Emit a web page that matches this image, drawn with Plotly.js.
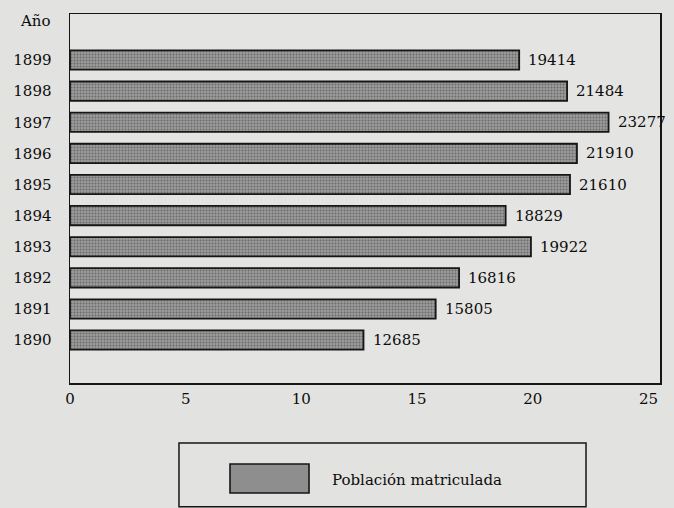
<!DOCTYPE html>
<html>
<head>
<meta charset="utf-8">
<script src="https://cdn.plot.ly/plotly-3.0.1.min.js"></script>
<style>html,body{margin:0;padding:0;background:#e2e2e0;}#chart{width:674px;height:508px;}</style>
</head>
<body>
<div id="chart"></div>
<script>
// Data
const years = [1890, 1891, 1892, 1893, 1894, 1895, 1896, 1897, 1898, 1899];
const matriculados = [12685, 15805, 16816, 19922, 18829, 21610, 21910, 23277, 21484, 19414];
const yearLabels = ["1890", "1891", "1892", "1893", "1894", "1895", "1896", "1897", "1898", "1899"];
const xTicks = [0, 5, 10, 15, 20, 25];
const seriesName = "Población matriculada";
const yAxisLabel = "Año";

const xThousands = matriculados.map(v => v / 1000);
const fontFam = "DejaVu Serif, Liberation Serif, serif";
const ink = "#0c0c0c";

const trace = {
  type: "bar",
  orientation: "h",
  x: xThousands,
  y: years,
  width: 0.62,
  name: seriesName,
  showlegend: false,
  hoverinfo: "skip",
  marker: {
    color: "#909090",
    line: {color: "#161616", width: 1.8},
    pattern: {shape: ".", fgcolor: "#6a6a6a", bgcolor: "#9c9c9c", size: 3, solidity: 0.35}
  }
};

const annotations = years.map((yr, i) => ({
  x: xThousands[i], y: yr, xref: "x", yref: "y",
  text: String(matriculados[i]), showarrow: false,
  xanchor: "left", yanchor: "middle", xshift: 7,
  font: {family: fontFam, size: 15, color: ink}
}));

annotations.push({
  x: 0, y: 1900.26, xref: "paper", yref: "y",
  text: yAxisLabel, showarrow: false, xanchor: "right", yanchor: "middle", xshift: -17,
  font: {family: fontFam, size: 15, color: ink}
});

// custom legend (box + large swatch + label)
annotations.push({
  x: 0.4407, y: -0.263, xref: "paper", yref: "paper",
  text: seriesName, showarrow: false, xanchor: "left", yanchor: "middle",
  font: {family: fontFam, size: 15, color: ink}
});

const shapes = [
  {type: "rect", xref: "paper", yref: "paper", x0: 0.1847, x1: 0.8746, y0: -0.3355, y1: -0.1626,
   line: {color: "#161616", width: 1.5}, fillcolor: "rgba(0,0,0,0)"},
  {type: "rect", xref: "paper", yref: "paper", x0: 0.2712, x1: 0.4051, y0: -0.2981, y1: -0.2195,
   line: {color: "#161616", width: 1.6}, fillcolor: "#8e8e8e"}
];

const layout = {
  width: 674, height: 508,
  paper_bgcolor: "#e2e2e0",
  plot_bgcolor: "#e4e4e2",
  margin: {l: 70, r: 14, t: 14, b: 125},
  font: {family: fontFam, size: 15, color: ink},
  showlegend: false,
  xaxis: {
    range: [0, 25.5], tickvals: xTicks, ticktext: xTicks.map(String),
    showgrid: false, zeroline: false,
    showline: true, mirror: true, linecolor: "#161616", linewidth: 1.5,
    ticks: "outside", ticklen: 1, tickcolor: "rgba(0,0,0,0)",
    tickfont: {family: fontFam, size: 15, color: ink}, fixedrange: true
  },
  yaxis: {
    range: [1888.62, 1900.48], tickvals: years, ticktext: yearLabels,
    showgrid: false, zeroline: false,
    showline: true, mirror: true, linecolor: "#161616", linewidth: 1.5,
    ticks: "outside", ticklen: 14, tickcolor: "rgba(0,0,0,0)",
    tickfont: {family: fontFam, size: 15, color: ink}, fixedrange: true
  },
  annotations: annotations,
  shapes: shapes
};

Plotly.newPlot("chart", [trace], layout, {displayModeBar: false, staticPlot: true});
</script>
</body>
</html>
